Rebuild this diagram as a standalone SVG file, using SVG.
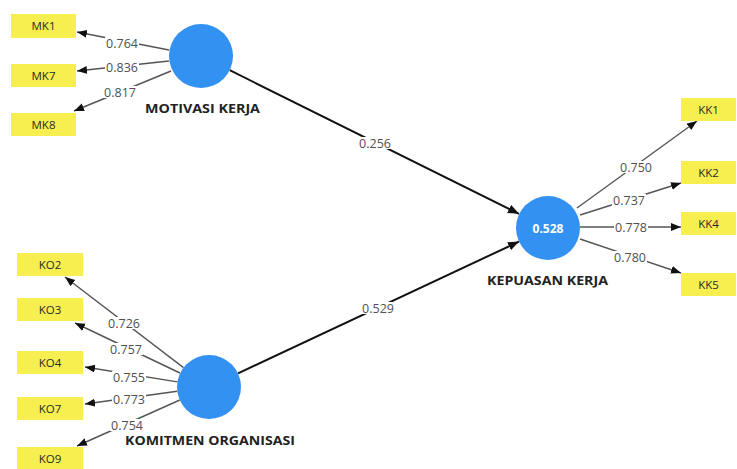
<svg xmlns="http://www.w3.org/2000/svg" width="737" height="469" viewBox="0 0 737 469">
<defs>
<marker id="ah" markerUnits="userSpaceOnUse" markerWidth="12" markerHeight="10" refX="11" refY="4.5" orient="auto">
<path d="M0,0 L11,4.5 L0,9 z" fill="#111"/>
</marker>
<marker id="ahs" markerUnits="userSpaceOnUse" markerWidth="12" markerHeight="10" refX="10" refY="4" orient="auto">
<path d="M0,0 L10,4 L0,8 z" fill="#111"/>
</marker>
</defs>
<style>
.ind rect{fill:#f7ef4f}
.ind text{font-family:"Open Sans","DejaVu Sans",sans-serif;font-size:11.5px;fill:#2a2a2a;text-anchor:middle}
.lv circle{fill:#3391f2}
.lvl{font-family:"Open Sans","DejaVu Sans",sans-serif;font-size:12.5px;font-weight:bold;fill:#222;text-anchor:middle}
.r2{font-family:"Open Sans","DejaVu Sans",sans-serif;font-size:12px;font-weight:bold;fill:#fff;text-anchor:middle}
.ld{stroke:#555;stroke-width:1.4;fill:none;marker-end:url(#ahs)}
.pc{stroke:#111;stroke-width:2;fill:none;marker-end:url(#ah)}
.bg{fill:#fff}
.lb{font-family:"Open Sans","DejaVu Sans",sans-serif;font-size:12.5px;fill:#505050;text-anchor:middle}
</style>
<rect width="737" height="469" fill="#fff"/>
<g id="connectors">
<line class="ld" x1="169" y1="50" x2="77" y2="32"/>
<line class="ld" x1="169" y1="61" x2="77" y2="71"/>
<line class="ld" x1="171" y1="71" x2="74" y2="111"/>
<line class="ld" x1="183.5" y1="367.6" x2="65" y2="277"/>
<line class="ld" x1="180" y1="373" x2="75" y2="323"/>
<line class="ld" x1="177.4" y1="381.9" x2="85" y2="367"/>
<line class="ld" x1="177.3" y1="391.3" x2="85" y2="404"/>
<line class="ld" x1="179.8" y1="400" x2="77" y2="446"/>
<line class="ld" x1="577" y1="208" x2="697" y2="121"/>
<line class="ld" x1="580" y1="215" x2="681" y2="183"/>
<line class="ld" x1="580" y1="227" x2="681" y2="227"/>
<line class="ld" x1="580" y1="239" x2="681" y2="273"/>
<line class="pc" x1="229.7" y1="70.2" x2="519" y2="213.8"/>
<line class="pc" x1="238" y1="373.4" x2="519" y2="241.6"/>
<rect class="bg" x="105" y="37" width="34" height="12"/>
<rect class="bg" x="105" y="61" width="34" height="12"/>
<rect class="bg" x="103" y="86" width="34" height="12"/>
<rect class="bg" x="357" y="137" width="36" height="12"/>
<rect class="bg" x="360" y="302" width="36" height="12"/>
<rect class="bg" x="107" y="317" width="34" height="12"/>
<rect class="bg" x="109" y="343" width="34" height="12"/>
<rect class="bg" x="112" y="371" width="34" height="12"/>
<rect class="bg" x="112" y="393" width="34" height="12"/>
<rect class="bg" x="110" y="419" width="34" height="12"/>
<rect class="bg" x="619" y="161" width="34" height="12"/>
<rect class="bg" x="612" y="194" width="34" height="12"/>
<rect class="bg" x="614" y="221" width="34" height="12"/>
<rect class="bg" x="613" y="251" width="34" height="12"/>
<text class="lb" x="122" y="47.5">0.764</text>
<text class="lb" x="122" y="71.5">0.836</text>
<text class="lb" x="120" y="96.5">0.817</text>
<text class="lb" x="375" y="147.5">0.256</text>
<text class="lb" x="378" y="312.5">0.529</text>
<text class="lb" x="124" y="327.5">0.726</text>
<text class="lb" x="126" y="353.5">0.757</text>
<text class="lb" x="129" y="381.5">0.755</text>
<text class="lb" x="129" y="403.5">0.773</text>
<text class="lb" x="127" y="429.5">0.754</text>
<text class="lb" x="636" y="171.5">0.750</text>
<text class="lb" x="629" y="204.5">0.737</text>
<text class="lb" x="631" y="231.5">0.778</text>
<text class="lb" x="630" y="261.5">0.780</text>
</g>
<g id="MK1" class="ind"><rect x="11" y="14" width="65" height="24"/><text x="43.5" y="30">MK1</text></g>
<g id="MK7" class="ind"><rect x="11" y="64" width="65" height="23"/><text x="43.5" y="79.5">MK7</text></g>
<g id="MK8" class="ind"><rect x="11" y="113" width="65" height="23"/><text x="43.5" y="128.5">MK8</text></g>
<g id="KO2" class="ind"><rect x="17" y="253" width="66" height="23"/><text x="50" y="268.5">KO2</text></g>
<g id="KO3" class="ind"><rect x="17" y="298" width="66" height="23"/><text x="50" y="313.5">KO3</text></g>
<g id="KO4" class="ind"><rect x="17" y="351" width="66" height="23"/><text x="50" y="366.5">KO4</text></g>
<g id="KO7" class="ind"><rect x="17" y="397" width="66" height="23"/><text x="50" y="412.5">KO7</text></g>
<g id="KO9" class="ind"><rect x="17" y="447" width="66" height="23"/><text x="50" y="462.5">KO9</text></g>
<g id="KK1" class="ind"><rect x="681" y="98" width="55" height="23"/><text x="708.5" y="113.5">KK1</text></g>
<g id="KK2" class="ind"><rect x="681" y="161" width="55" height="23"/><text x="708.5" y="176.5">KK2</text></g>
<g id="KK4" class="ind"><rect x="681" y="212" width="55" height="23"/><text x="708.5" y="227.5">KK4</text></g>
<g id="KK5" class="ind"><rect x="681" y="273" width="55" height="23"/><text x="708.5" y="288.5">KK5</text></g>
<g id="MOTIVASI_KERJA" class="lv"><circle cx="201" cy="56" r="32"/><text class="lvl" x="202.5" y="113" textLength="115" lengthAdjust="spacingAndGlyphs">MOTIVASI KERJA</text></g>
<g id="KOMITMEN_ORGANISASI" class="lv"><circle cx="209" cy="387" r="32"/><text class="lvl" x="210" y="445" textLength="170" lengthAdjust="spacingAndGlyphs">KOMITMEN ORGANISASI</text></g>
<g id="KEPUASAN_KERJA" class="lv"><circle cx="548" cy="228" r="32"/><text class="r2" x="548" y="233">0.528</text><text class="lvl" x="547.5" y="285" textLength="121" lengthAdjust="spacingAndGlyphs">KEPUASAN KERJA</text></g>
</svg>
